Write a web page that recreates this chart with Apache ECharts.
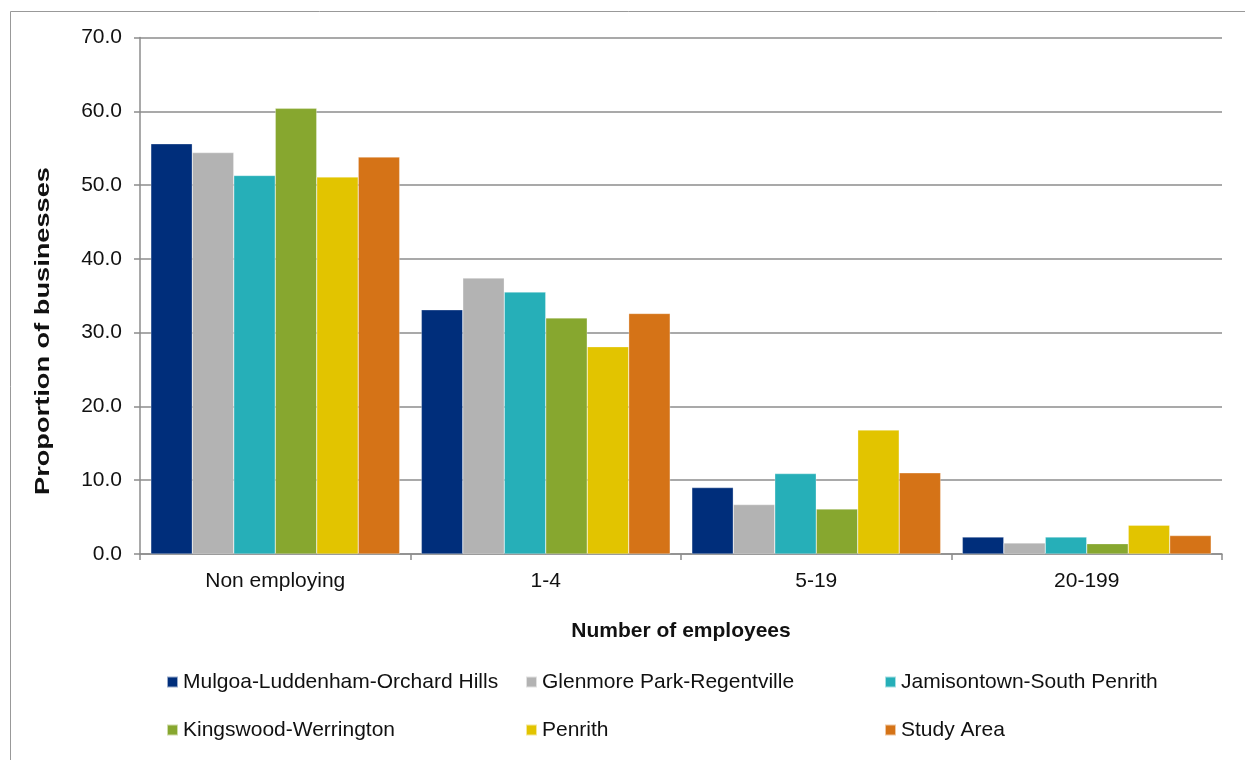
<!DOCTYPE html>
<html>
<head>
<meta charset="utf-8">
<title>Proportion of businesses by number of employees</title>
<script src="https://cdn.jsdelivr.net/npm/echarts@6/dist/echarts.min.js"></script>
<style>
  html, body { margin: 0; padding: 0; background: #ffffff; }
  #chart { width: 1245px; height: 760px; }
</style>
</head>
<body>
<div id="chart"></div>
<script>
// Business size categories (x axis)
const categories = ['Non employing', '1-4', '5-19', '20-199'];

// Share of businesses (%) in each size band, by area
const mulgoa      = [55.6, 33.1, 9.0, 2.3];
const glenmore    = [54.4, 37.4, 6.7, 1.5];
const jamisontown = [51.3, 35.5, 10.9, 2.3];
const kingswood   = [60.4, 32.0, 6.1, 1.4];
const penrith     = [51.1, 28.1, 16.8, 3.9];
const studyArea   = [53.8, 32.6, 11.0, 2.5];

const seriesNames = [
  'Mulgoa-Luddenham-Orchard Hills',
  'Glenmore Park-Regentville',
  'Jamisontown-South Penrith',
  'Kingswood-Werrington',
  'Penrith',
  'Study Area'
];
const seriesValues = [mulgoa, glenmore, jamisontown, kingswood, penrith, studyArea];
const colors = ['#002E7B', '#B3B3B3', '#26AFB8', '#87A72F', '#E2C400', '#D57317'];

const FONT = '"Liberation Sans", Arial, sans-serif';
const GRAY = '#8C8C8C';
const INK = '#111111';

// Legend: two rows of three columns
const legendCols = [166, 525, 884];
const legendRows = [671.5, 719.5];
const legends = seriesNames.map((name, i) => ({
  data: [name],
  left: legendCols[i % 3],
  top: legendRows[Math.floor(i / 3)],
  itemWidth: 11,
  itemHeight: 11,
  itemGap: 0,
  padding: 0,
  icon: 'rect',
  selectedMode: false,
  textStyle: { fontFamily: FONT, fontSize: 21, color: INK, lineHeight: 21 }
}));

const chart = echarts.init(document.getElementById('chart'), null, { renderer: 'canvas' });
chart.setOption({
  backgroundColor: '#ffffff',
  animation: false,
  color: colors,
  textStyle: { fontFamily: FONT },
  graphic: [
    {
      // outer chart frame
      type: 'rect',
      shape: { x: 10.5, y: 11.5, width: 1300, height: 800 },
      style: { fill: 'none', stroke: '#999999', lineWidth: 1 },
      silent: true
    },
    {
      // value axis title, drawn rotated and stretched along its length
      type: 'text',
      x: 43,
      y: 331,
      rotation: Math.PI / 2,
      scaleX: 1.36,
      style: {
        text: 'Proportion of businesses',
        font: 'bold 20px ' + FONT,
        fill: INK,
        align: 'center',
        verticalAlign: 'middle'
      },
      silent: true
    }
  ],
  legend: legends,
  grid: { left: 140, top: 37.5, width: 1082, height: 516.5, containLabel: false },
  xAxis: {
    type: 'category',
    data: categories,
    name: 'Number of employees',
    nameLocation: 'middle',
    nameGap: 67,
    nameTextStyle: { fontFamily: FONT, fontSize: 21, fontWeight: 'bold', color: INK },
    axisLine: { lineStyle: { color: GRAY, width: 1.5 } },
    axisTick: { show: true, length: 6, interval: 0, lineStyle: { color: GRAY, width: 1.5 } },
    axisLabel: { fontFamily: FONT, fontSize: 21, color: INK, margin: 17 }
  },
  yAxis: {
    type: 'value',
    min: 0,
    max: 70,
    interval: 10,
    axisLine: { show: true, lineStyle: { color: GRAY, width: 1.5 } },
    axisTick: { show: true, length: 6, lineStyle: { color: GRAY, width: 1.5 } },
    axisLabel: {
      fontFamily: FONT, fontSize: 21, color: INK, margin: 18,
      formatter: v => v.toFixed(1)
    },
    splitLine: { show: true, lineStyle: { color: GRAY, width: 1.5 } }
  },
  series: seriesNames.map((name, i) => ({
    name: name,
    type: 'bar',
    data: seriesValues[i],
    barGap: '0%',
    barCategoryGap: '8%',
    itemStyle: { color: colors[i], borderColor: 'rgba(255,255,255,0.6)', borderWidth: 0.5 }
  }))
});
</script>
</body>
</html>
